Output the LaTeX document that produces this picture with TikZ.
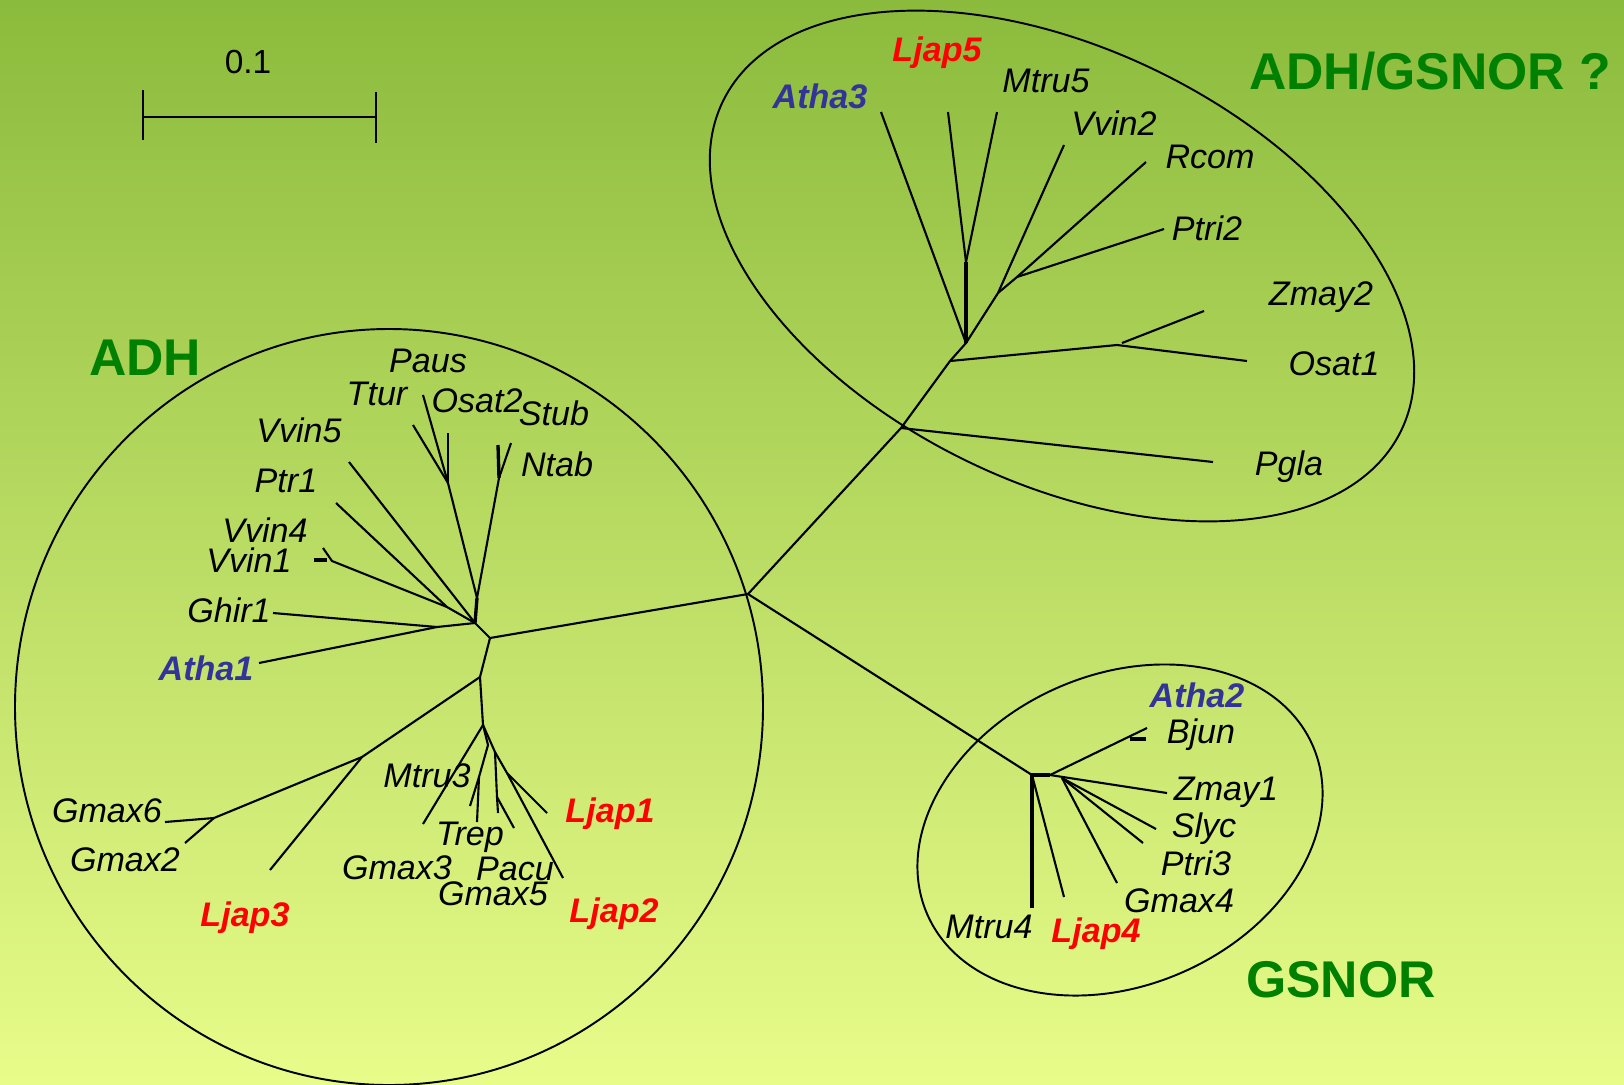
\documentclass[tikz,border=0pt]{standalone}
\usepackage{fontspec}
\setmainfont{Liberation Sans}

\definecolor{bgtop}{RGB}{139,187,60}
\definecolor{bgmid}{RGB}{192,222,100}
\definecolor{bgbot}{RGB}{232,252,138}
\definecolor{cladegreen}{RGB}{0,128,0}
\definecolor{athablue}{RGB}{51,51,153}
\definecolor{ljapred}{RGB}{255,0,0}

\begin{document}
\begin{tikzpicture}[x=0.1mm, y=-0.1mm,
taxon/.style={anchor=base, inner sep=0pt, font=\fontsize{9.7}{11}\selectfont\itshape},
athataxon/.style={taxon, font=\fontsize{9.7}{11}\selectfont\bfseries\itshape, text=athablue},
ljaptaxon/.style={taxon, font=\fontsize{9.7}{11}\selectfont\bfseries\itshape, text=ljapred},
cladename/.style={anchor=base, inner sep=0pt, font=\fontsize{14.7}{17}\selectfont\bfseries, text=cladegreen},
branch/.style={line width=0.6pt},
shortbranch/.style={line width=0.95pt},
hull/.style={line width=0.55pt}]

\useasboundingbox (0, 0) rectangle (1624, 1084);
\shade[top color=bgtop, middle color=bgmid, bottom color=bgbot] (0, 0) rectangle (1624, 1084);

% scale bar
\node[anchor=base, inner sep=0pt, font=\fontsize{9.5}{11}\selectfont](scalelabel) at (248, 73){0.1};
\draw[line width=0.8pt] (143, 90) -- (143, 140) (143, 117) -- (376, 117) (376, 92) -- (376, 143);

% clade outlines
\draw[hull] (389, 707) ellipse [x radius=374, y radius=378];
\draw[hull, rotate around={-25.9:(1062, 266)}] (1062, 266) ellipse [x radius=377, y radius=217];
\draw[hull, rotate around={23.7:(1120, 830)}] (1120, 830) ellipse [x radius=210.4, y radius=155.4];

\node[cladename](adhname) at (145, 375){ADH};
\node[cladename](mixname) at (1430, 89){ADH/GSNOR ?};
\node[cladename](gsnorname) at (1341, 997){GSNOR};

% inner nodes
\coordinate (root) at (748, 594);
\coordinate (adh0) at (490, 638);
\coordinate (adh1) at (475, 623);
\coordinate (adh2) at (477, 598);
\coordinate (pausnode) at (448, 483);
\coordinate (stubnode) at (499, 478);
\coordinate (vvinnode) at (332, 561);
\coordinate (ptrnode) at (447, 607);
\coordinate (ghirnode) at (437, 627);
\coordinate (adh3) at (480, 677);
\coordinate (adh4) at (483, 725);
\coordinate (gmaxnode) at (362, 757);
\coordinate (gmax26node) at (214, 818);
\coordinate (ljapnode) at (495, 752);
\coordinate (ljap12node) at (507, 773);
\coordinate (pacunode) at (497, 797);
\coordinate (trepnode) at (488, 745);
\coordinate (mtrunode) at (479, 777);

\coordinate (mix0) at (901, 428);
\coordinate (mix1) at (950, 361);
\coordinate (mix2) at (966, 343);
\coordinate (mix3) at (966, 262);
\coordinate (mix4) at (998, 293);
\coordinate (mix5) at (1017, 277);
\coordinate (monocotnode) at (1117, 345);
\coordinate (zmaynode) at (1122, 343);

\coordinate (gs0) at (1032, 775);
\coordinate (gs1) at (1050, 775);
\coordinate (gs2) at (1062, 778);
\coordinate (bjunnode) at (1118, 742);

% tips
\coordinate (pausT) at (423, 395);
\coordinate (tturT) at (413, 425);
\coordinate (osat2T) at (448, 433);
\coordinate (stubT) at (498, 445);
\coordinate (ntabT) at (511, 443);
\coordinate (vvin5T) at (349, 462);
\coordinate (ptr1T) at (336, 503);
\coordinate (vvin4T) at (323, 548);
\coordinate (vvin1L) at (314, 560);
\coordinate (vvin1R) at (327, 560);
\coordinate (ghir1T) at (273, 613);
\coordinate (atha1T) at (259, 663);
\coordinate (gmax6T) at (165, 822);
\coordinate (gmax2T) at (185, 843);
\coordinate (ljap3T) at (270, 870);
\coordinate (gmax3T) at (423, 824);
\coordinate (ljap1T) at (547, 813);
\coordinate (ljap2T) at (563, 878);
\coordinate (pacuT) at (498, 813);
\coordinate (gmax5T) at (514, 828);
\coordinate (trepT) at (477, 822);
\coordinate (mtru3T) at (470, 806);

\coordinate (pglaT) at (1213, 462);
\coordinate (zmay2T) at (1204, 311);
\coordinate (osat1T) at (1247, 361);
\coordinate (atha3T) at (881, 112);
\coordinate (ljap5T) at (948, 112);
\coordinate (mtru5T) at (997, 112);
\coordinate (vvin2T) at (1064, 145);
\coordinate (rcomT) at (1146, 162);
\coordinate (ptri2T) at (1164, 229);

\coordinate (mtru4T) at (1032, 908);
\coordinate (ljap4T) at (1064, 897);
\coordinate (atha2T) at (1147, 728);
\coordinate (bjunL) at (1130, 739);
\coordinate (bjunR) at (1146, 739);
\coordinate (zmay1T) at (1167, 793);
\coordinate (slycT) at (1156, 829);
\coordinate (ptri3T) at (1143, 843);
\coordinate (gmax4T) at (1117, 883);

% ADH branches
\draw[branch] (root) -- (adh0) -- (adh1);
\draw[shortbranch] (adh1) -- (adh2);
\draw[branch] (adh2) -- (pausnode) -- (pausT);
\draw[branch] (pausnode) -- (tturT);
\draw[branch] (pausnode) -- (osat2T);
\draw[branch] (adh2) -- (stubnode) -- (ntabT);
\draw[shortbranch] (stubnode) -- (stubT);
\draw[branch] (vvin5T) -- (adh1);
\draw[branch] (vvin4T) -- (vvinnode) -- (ptrnode) -- (adh1);
\draw[shortbranch] (vvin1L) -- (vvin1R);
\draw[branch] (ptr1T) -- (ptrnode);
\draw[branch] (ghir1T) -- (ghirnode) -- (adh1);
\draw[branch] (atha1T) -- (ghirnode);
\draw[branch] (adh0) -- (adh3) -- (adh4);
\draw[branch] (adh3) -- (gmaxnode) -- (gmax26node) -- (gmax6T);
\draw[branch] (gmax26node) -- (gmax2T);
\draw[branch] (gmaxnode) -- (ljap3T);
\draw[branch] (adh4) -- (gmax3T);
\draw[branch] (adh4) -- (ljapnode) -- (ljap12node) -- (ljap1T);
\draw[branch] (ljap12node) -- (ljap2T);
\draw[branch] (ljapnode) -- (pacunode) -- (pacuT);
\draw[branch] (pacunode) -- (gmax5T);
\draw[branch] (adh4) -- (trepnode) -- (mtrunode) -- (trepT);
\draw[branch] (mtrunode) -- (mtru3T);

% ADH/GSNOR branches
\draw[branch] (root) -- (mix0) -- (mix1) -- (mix2) -- (mix4) -- (mix5) -- (rcomT);
\draw[branch] (mix0) -- (pglaT);
\draw[branch] (mix1) -- (monocotnode) -- (osat1T);
\draw[branch] (zmaynode) -- (zmay2T);
\draw[shortbranch] (mix2) -- (mix3);
\draw[branch] (mix3) -- (ljap5T);
\draw[branch] (mix3) -- (mtru5T);
\draw[branch] (mix2) -- (atha3T);
\draw[branch] (mix4) -- (vvin2T);
\draw[branch] (mix5) -- (ptri2T);

% GSNOR branches
\draw[branch] (root) -- (gs0);
\draw[shortbranch] (mtru4T) -- (gs0) -- (gs1);
\draw[branch] (gs0) -- (ljap4T);
\draw[branch] (gs1) -- (bjunnode) -- (atha2T);
\draw[shortbranch] (bjunL) -- (bjunR);
\draw[branch] (gs1) -- (zmay1T);
\draw[branch] (gs2) -- (slycT);
\draw[branch] (gs2) -- (ptri3T);
\draw[branch] (gs2) -- (gmax4T);

% ADH labels
\node[taxon](paus) at (428, 372){Paus};
\node[taxon](ttur) at (377, 405){Ttur};
\node[taxon](osat2) at (477, 412){Osat2};
\node[taxon](stub) at (554, 425){Stub};
\node[taxon](ntab) at (557, 476){Ntab};
\node[taxon](vvin5) at (299, 442){Vvin5};
\node[taxon](ptr1) at (286, 492){Ptr1};
\node[taxon](vvin4) at (265, 542){Vvin4};
\node[taxon](vvin1) at (249, 572){Vvin1};
\node[taxon](ghir1) at (229, 622){Ghir1};
\node[athataxon](atha1) at (206, 680){Atha1};
\node[taxon](mtru3) at (427, 787){Mtru3};
\node[taxon](trep) at (470, 845){Trep};
\node[taxon](gmax3) at (397, 879){Gmax3};
\node[taxon](pacu) at (515, 880){Pacu};
\node[taxon](gmax5) at (493, 905){Gmax5};
\node[ljaptaxon](ljap1) at (610, 822){Ljap1};
\node[ljaptaxon](ljap2) at (614, 922){Ljap2};
\node[ljaptaxon](ljap3) at (245, 926){Ljap3};
\node[taxon](gmax6) at (107, 822){Gmax6};
\node[taxon](gmax2) at (125, 871){Gmax2};

% ADH/GSNOR labels
\node[ljaptaxon](ljap5) at (937, 61){Ljap5};
\node[athataxon](atha3) at (820, 108){Atha3};
\node[taxon](mtru5) at (1046, 92){Mtru5};
\node[taxon](vvin2) at (1114, 135){Vvin2};
\node[taxon](rcom) at (1210, 168){Rcom};
\node[taxon](ptri2) at (1207, 240){Ptri2};
\node[taxon](zmay2) at (1321, 305){Zmay2};
\node[taxon](osat1) at (1334, 375){Osat1};
\node[taxon](pgla) at (1289, 475){Pgla};

% GSNOR labels
\node[athataxon](atha2) at (1197, 707){Atha2};
\node[taxon](bjun) at (1201, 743){Bjun};
\node[taxon](zmay1) at (1226, 800){Zmay1};
\node[taxon](slyc) at (1204, 837){Slyc};
\node[taxon](ptri3) at (1196, 875){Ptri3};
\node[taxon](gmax4) at (1179, 912){Gmax4};
\node[taxon](mtru4) at (989, 938){Mtru4};
\node[ljaptaxon](ljap4) at (1096, 942){Ljap4};

\end{tikzpicture}
\end{document}
